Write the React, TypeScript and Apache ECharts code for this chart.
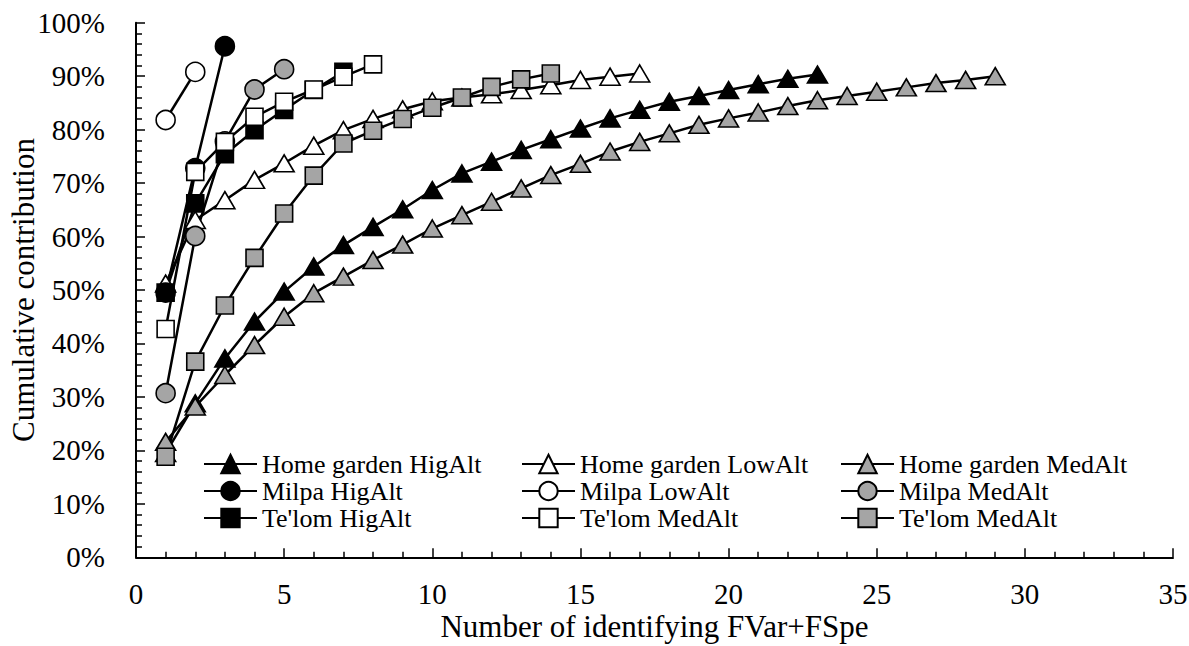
import { useEffect, useRef } from "react";
import * as echarts from "echarts";

// Cumulative contribution (%) for 1..n identifying FVar+FSpe
const homeGardenHigAlt = [19.5, 28.8, 37.2, 44.1, 49.7, 54.4, 58.4, 61.8, 65.1, 68.7, 71.8, 74.0, 76.2, 78.2, 80.2, 82.1, 83.7, 85.2, 86.3, 87.4, 88.5, 89.5, 90.3];
const homeGardenLowAlt = [51.2, 63.1, 66.8, 70.6, 73.7, 77.0, 79.9, 82.0, 83.8, 85.3, 86.0, 86.6, 87.4, 88.3, 89.3, 89.9, 90.5];
const homeGardenMedAlt = [21.6, 28.2, 34.1, 39.7, 45.0, 49.4, 52.5, 55.6, 58.5, 61.5, 64.0, 66.5, 69.0, 71.5, 73.6, 75.9, 77.7, 79.3, 80.9, 82.1, 83.2, 84.4, 85.5, 86.3, 87.1, 87.9, 88.7, 89.3, 90.0];
const milpaHigAlt = [49.5, 72.8, 95.6];
const milpaLowAlt = [81.8, 90.8];
const milpaMedAlt = [30.7, 60.1, 77.8, 87.5, 91.3];
const telomHigAlt = [49.5, 66.2, 75.4, 79.9, 83.7, 87.4, 90.8];
const telomMedAltWhite = [42.7, 72.1, 77.7, 82.4, 85.2, 87.5, 89.9, 92.2];
const telomMedAltGrey = [18.8, 36.6, 47.1, 56.0, 64.3, 71.4, 77.4, 79.8, 82.0, 84.1, 86.0, 88.0, 89.4, 90.5];

const seriesNames = [
  "Home garden HigAlt",
  "Home garden LowAlt",
  "Home garden MedAlt",
  "Milpa HigAlt",
  "Milpa LowAlt",
  "Milpa MedAlt",
  "Te'lom HigAlt",
  "Te'lom MedAlt",
  "Te'lom MedAlt ",
];

const xAxisTitle = "Number of identifying FVar+FSpe";
const yAxisTitle = "Cumulative contribution";

const FONT = '"Liberation Serif", "Times New Roman", serif';
const GREY = "#a5a5a5";

function pairs(v: number[]) {
  return v.map((y, i) => [i + 1, y]);
}

function mk(name: string, values: number[], symbol: string, fill: string, size: number | number[]) {
  return {
    name,
    type: "line",
    data: pairs(values),
    symbol,
    symbolSize: size,
    showAllSymbol: true,
    lineStyle: { color: "#000", width: 2.5 },
    itemStyle: { color: fill, borderColor: "#000", borderWidth: 1.6 },
    emphasis: { disabled: true },
    z: 2,
  };
}

export default function App() {
  const ref = useRef<HTMLDivElement>(null);
  useEffect(() => {
    const chart = echarts.init(ref.current!, null, { renderer: "svg" });
    const tri = [20, 17];
    const sq = 17;
    const circ = 19;
    const legendBase = {
      orient: "vertical",
      top: 451,
      padding: 0,
      itemWidth: 53,
      itemHeight: 23,
      itemGap: 1,
      selectedMode: false,
      textStyle: { fontFamily: FONT, fontSize: 26, color: "#000", padding: [0, 0, 0, 0] },
    };
    chart.setOption({
      animation: false,
      backgroundColor: "#fff",
      textStyle: { fontFamily: FONT },
      grid: { left: 136, right: 16, top: 22.7, bottom: 88.7, containLabel: false, outerBoundsMode: "none" },
      legend: [
        { ...legendBase, left: 203, data: [seriesNames[0], seriesNames[3], seriesNames[6]] },
        { ...legendBase, left: 521, data: [seriesNames[1], seriesNames[4], seriesNames[7]] },
        { ...legendBase, left: 840, data: [seriesNames[2], seriesNames[5], seriesNames[8]] },
      ],
      xAxis: {
        type: "value",
        min: 0,
        max: 35,
        interval: 5,
        name: xAxisTitle,
        nameLocation: "middle",
        nameGap: 54,
        nameMoveOverlap: false,
        nameTextStyle: { fontFamily: FONT, fontSize: 31, color: "#000" },
        axisLine: { show: true, onZero: false, lineStyle: { color: "#000", width: 2 } },
        axisTick: { show: true, inside: true, length: 9, lineStyle: { color: "#000", width: 1.5 } },
        minorTick: { show: true, splitNumber: 5, length: 5.5, lineStyle: { color: "#000", width: 1.5 } },
        axisLabel: { fontFamily: FONT, fontSize: 29, color: "#000", margin: 22 },
        splitLine: { show: false },
      },
      yAxis: {
        type: "value",
        min: 0,
        max: 100,
        interval: 10,
        name: yAxisTitle,
        nameLocation: "middle",
        nameGap: 97,
        nameMoveOverlap: false,
        nameTextStyle: { fontFamily: FONT, fontSize: 31, color: "#000" },
        axisLine: { show: true, onZero: false, lineStyle: { color: "#000", width: 2 } },
        axisTick: { show: true, inside: true, length: 9, lineStyle: { color: "#000", width: 1.5 } },
        minorTick: { show: true, splitNumber: 5, length: 6, lineStyle: { color: "#000", width: 1.5 } },
        axisLabel: { fontFamily: FONT, fontSize: 29, color: "#000", margin: 31, formatter: "{value}%" },
        splitLine: { show: false },
      },
      series: [
        mk(seriesNames[0], homeGardenHigAlt, "triangle", "#000", tri),
        mk(seriesNames[1], homeGardenLowAlt, "triangle", "#fff", tri),
        mk(seriesNames[2], homeGardenMedAlt, "triangle", GREY, tri),
        mk(seriesNames[3], milpaHigAlt, "circle", "#000", circ),
        mk(seriesNames[4], milpaLowAlt, "circle", "#fff", circ),
        mk(seriesNames[5], milpaMedAlt, "circle", GREY, circ),
        mk(seriesNames[6], telomHigAlt, "rect", "#000", sq),
        mk(seriesNames[7], telomMedAltWhite, "rect", "#fff", sq),
        mk(seriesNames[8], telomMedAltGrey, "rect", GREY, sq),
      ],
    });
    return () => chart.dispose();
  }, []);
  return (
    <div
      ref={ref}
      style={{ position: "absolute", left: 0, top: 0, width: 1189, height: 646, background: "#fff" }}
    />
  );
}
